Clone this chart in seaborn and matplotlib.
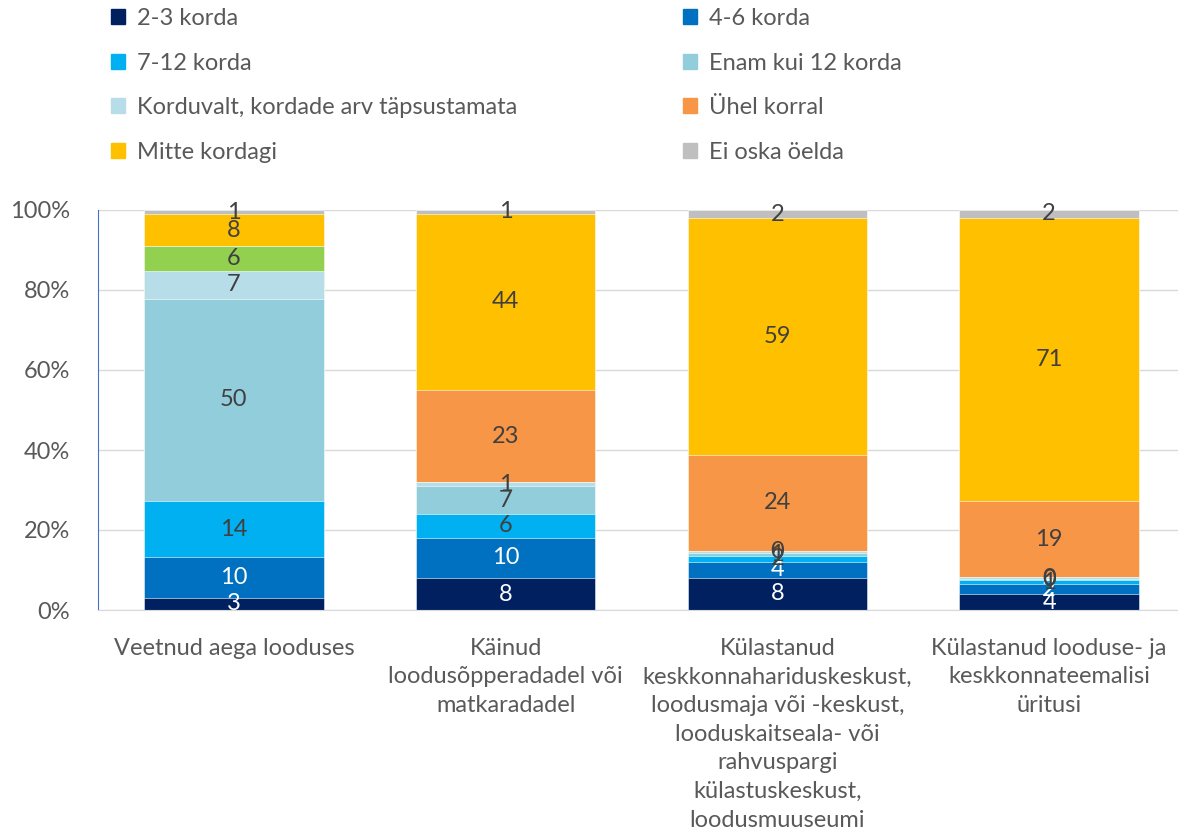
import numpy as np
import matplotlib
matplotlib.use("Agg")
import matplotlib.pyplot as plt
import seaborn as sns

# Data (percent of respondents), stacked from bottom to top
categories = [
    "Veetnud aega looduses",
    "Käinud\nloodusõpperadadel või\nmatkaradadel",
    "Külastanud\nkeskkonnahariduskeskust,\nloodusmaja või -keskust,\nlooduskaitseala- või\nrahvuspargi\nkülastuskeskust,\nloodusmuuseumi",
    "Külastanud looduse- ja\nkeskkonnateemalisi\nüritusi",
]
series_names = [
    "2-3 korda", "4-6 korda", "7-12 korda", "Enam kui 12 korda",
    "Korduvalt, kordade arv täpsustamata", "Muu", "Ühel korral",
    "Mitte kordagi", "Ei oska öelda",
]
kord_2_3 = [3, 8, 8, 4]
kord_4_6 = [10, 10, 4, 2.4]
kord_7_12 = [14, 6, 1.5, 1]
enam_12 = [50, 7, 0.8, 0.4]
korduvalt = [7, 1, 0.4, 0.4]
muu = [6, 0, 0, 0]
uhel_korral = [0, 23, 24, 19]
mitte = [8, 44, 59, 71]
ei_oska = [1, 1, 2, 2]

colors = ["#002060", "#0070C0", "#00B0F0", "#92CDDC", "#B7DEE8",
          "#92D050", "#F79646", "#FFC000", "#BFBFBF"]
label_colors = ["white", "white", "#404040", "#404040", "#404040",
                "#404040", "#404040", "#404040", "#404040"]
legend_left = ["2-3 korda", "7-12 korda", "Korduvalt, kordade arv täpsustamata", "Mitte kordagi"]
legend_right = ["4-6 korda", "Enam kui 12 korda", "Ühel korral", "Ei oska öelda"]

values = np.array([kord_2_3, kord_4_6, kord_7_12, enam_12, korduvalt,
                   muu, uhel_korral, mitte, ei_oska], dtype=float)
shares = values / values.sum(axis=0) * 100
cum = shares.cumsum(axis=0)

sns.set_style("white")
plt.rcParams["font.family"] = ["Lato", "DejaVu Sans"]
text_color = "#595959"

fig = plt.figure(figsize=(11.78, 8.38), dpi=100)
ax = fig.add_axes([98 / 1178, 1 - 610 / 838, 1087 / 1178, 400 / 838])

xs = np.arange(len(categories))
# draw cumulative bars from top to bottom so lower series overwrite
for i in range(len(series_names) - 1, -1, -1):
    sns.barplot(x=xs, y=cum[i], color=colors[i], width=0.66, ax=ax,
                saturation=1, native_scale=True, edgecolor="white", linewidth=0.4)

# segment labels
for i in range(len(series_names)):
    for j in range(len(categories)):
        v = values[i, j]
        if v <= 0:
            continue
        mid = cum[i, j] - shares[i, j] / 2
        ax.text(xs[j], mid, f"{v:.0f}", ha="center", va="center",
                fontsize=17, color=label_colors[i])

ax.set_xlim(-0.5, len(categories) - 0.5)
ax.set_ylim(0, 100)
ax.set_yticks(np.arange(0, 101, 20))
ax.set_yticklabels([f"{t}%" for t in range(0, 101, 20)], fontsize=17, color=text_color)
ax.set_xticks(xs)
ax.set_xticklabels(categories, fontsize=17, color=text_color, linespacing=1.45)
ax.tick_params(axis="x", length=0, pad=20)
ax.tick_params(axis="y", length=0, pad=20)
ax.set_xticks(np.arange(-0.5, len(categories), 1), minor=True)
ax.tick_params(axis="x", which="minor", length=8, color="#D9D9D9", width=1)
ax.set_axisbelow(True)
ax.yaxis.grid(True, color="#D9D9D9", linewidth=1)
for side in ["top", "right"]:
    ax.spines[side].set_visible(False)
ax.spines["left"].set_color("#4472C4")
ax.spines["bottom"].set_color("#D9D9D9")
ax.set_xlabel("")
ax.set_ylabel("")

# legend: two single-column blocks
for names, x0 in [(legend_left, 111), (legend_right, 683)]:
    handles = [plt.Rectangle((0, 0), 1, 1, color=colors[series_names.index(n)]) for n in names]
    fig.legend(handles, names, ncol=1, loc="upper left",
               bbox_to_anchor=(x0 / 1178, 1 - 8 / 838), frameon=False, fontsize=17,
               handlelength=0.6, handleheight=0.6, handletextpad=0.5,
               borderpad=0, borderaxespad=0, labelspacing=1.0, labelcolor=text_color)

plt.savefig("out.png", dpi=100)
